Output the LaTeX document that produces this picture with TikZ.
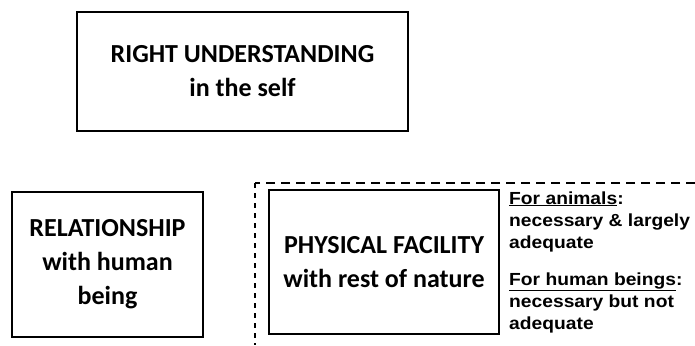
\documentclass[tikz,border=0pt]{standalone}
\usepackage{fontspec}
\setmainfont{Carlito}
\newfontfamily\notefont[FakeStretch=1.1]{Liberation Sans}
\begin{document}
\begin{tikzpicture}[x=1pt,y=-1pt,
  box/.style={draw=black, line width=1.5pt, inner sep=0pt, align=center,
    font=\bfseries\fontsize{26}{34}\selectfont},
  note/.style={inner sep=0pt, align=left, anchor=base west,
    font=\notefont\bfseries\fontsize{17.5}{22}\selectfont},
  frame/.style={line width=1.3pt}]
\useasboundingbox (0,0) rectangle (695,345);

% main boxes
\node[box, minimum width=331pt, minimum height=119pt] (self) at (242.5,71.5)
  {RIGHT UNDERSTANDING\\in the self};
\node[box, minimum width=191pt, minimum height=145pt] (rel) at (107.5,264.5)
  {RELATIONSHIP\\with human\\being};
\node[box, minimum width=230pt, minimum height=144pt] (phys) at (384,262)
  {PHYSICAL FACILITY\\with rest of nature};

% dashed frame around the physical facility part
\coordinate (frTR) at (695,183);
\coordinate (frTL) at (255,183);
\coordinate (frBL) at (255,345);
\draw[frame, dash pattern=on 9pt off 6pt] (frTR) -- (frTL);
\draw[frame, dash pattern=on 5pt off 5pt] (frTL) -- (frBL);

% notes beside the physical facility box (anchored at the last baseline)
\node[note] (animals) at (509,248)
  {\underline{For animals}:\\necessary \& largely\\adequate};
\node[note] (humans) at (509,329)
  {\underline{For human beings}:\\necessary but not\\adequate};
\end{tikzpicture}
\end{document}
